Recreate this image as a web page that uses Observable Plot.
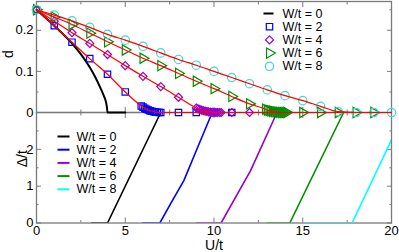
<!DOCTYPE html>
<html><head><meta charset="utf-8">
<script src="https://cdn.jsdelivr.net/npm/d3@7"></script>
<script src="https://cdn.jsdelivr.net/npm/@observablehq/plot@0.6"></script>
<style>
body{margin:0;background:#fff;}
#wrap{position:relative;width:399px;height:252px;overflow:hidden;background:#fff;}
.panel{position:absolute;left:0;}
</style></head><body><div id="wrap"><div class="panel" id="bot" style="top:112px"></div><div class="panel" id="top" style="top:0px"></div></div>
<script>
// ---------- data: top panel (order parameter d vs U/t) ----------
const W0_U = [0, 1, 2, 2.5, 3, 3.3, 3.6, 3.8, 3.9, 3.97, 4.0, 5.0];
const W0_d = [0.25, 0.211, 0.168, 0.142, 0.11, 0.087, 0.06, 0.04, 0.028, 0.012, 0, 0];

const W2_U = [0, 1, 2, 3, 4, 5, 5.9, 6.0, 6.1, 6.2, 6.3, 6.4, 6.5, 6.6, 6.7, 6.8, 6.9, 7.0, 8, 9, 10, 11];
const W2_d = [0.25, 0.211, 0.171, 0.131, 0.093, 0.050, 0.016, 0.013, 0.010, 0.008, 0.006, 0.004, 0.003, 0.002, 0.001, 0.0005, 0, 0, 0, 0, 0, 0];

const W4_U = [0, 1, 2, 3, 4, 5, 6, 7, 8, 9, 9.1, 9.2, 9.3, 9.4, 9.5, 9.6, 9.7, 9.8, 9.9, 10.0, 10.1, 10.2, 10.3, 10.4, 11, 12];
const W4_d = [0.25, 0.222, 0.194, 0.168, 0.141, 0.114, 0.088, 0.063, 0.037, 0.011, 0.009, 0.0075, 0.006, 0.0045, 0.0035, 0.0025, 0.0015, 0.001, 0.0005, 0, 0, 0, 0, 0, 0, 0];

const W6_U = [0, 1, 2, 3, 4, 5, 6, 7, 8, 9, 10, 11, 12, 12.9, 13.0, 13.1, 13.2, 13.3, 13.4, 13.5, 13.6, 13.7, 13.8, 13.9, 14.0, 14.1, 15, 16, 17, 18, 19];
const W6_d = [0.25, 0.232, 0.214, 0.193, 0.172, 0.152, 0.132, 0.114, 0.095, 0.076, 0.058, 0.039, 0.021, 0.008, 0.006, 0.005, 0.004, 0.003, 0.002, 0.0015, 0.001, 0.0005, 0, 0, 0, 0, 0, 0, 0, 0, 0];

const W8_U = [0, 1, 2, 3, 4, 5, 6, 7, 8, 9, 10, 11, 12, 13, 14, 15, 16, 17, 18, 19, 20];
const W8_d = [0.25, 0.237, 0.223, 0.207, 0.19, 0.176, 0.161, 0.145, 0.129, 0.115, 0.1, 0.085, 0.07, 0.055, 0.041, 0.029, 0.015, 0.002, 0, 0, 0];

// ---------- data: bottom panel (gap Delta/t vs U/t) ----------
const G0_U = [3.1, 4.0, 7.0];            const G0 = [0, 0, 3.0];
const G2_U = [6.0, 6.95, 7.55, 8.3, 9.24, 9.9]; const G2 = [0, 0, 0.52, 1.15, 2.24, 3.0];
const G4_U = [9.0, 10.4, 12.06, 13.55];  const G4 = [0, 0, 1.42, 3.0];
const G6_U = [13.0, 14.27, 17.3];        const G6 = [0, 0, 3.0];
const G8_U = [15.05, 17.78, 20];         const G8 = [0, 0, 2.26];

const legendLabels = ["W/t = 0", "W/t = 2", "W/t = 4", "W/t = 6", "W/t = 8"];
const xMajor = [0, 5, 10, 15, 20];
const xMinor = [2.5, 7.5, 12.5, 17.5];
const dMajor = [0, 0.1, 0.2];
const dMinor = [0.05, 0.15, 0.25];
const gMajor = [0, 1, 2];
const gMinor = [0.5, 1.5, 2.5];

// ---------- styling ----------
const GRAY = "#7a7a7a";
const BLUE = "#0000ff", VIOLET = "#9400d3", GREEN = "#008f00", TURQ = "#3fd9cf", CYAN = "#00ffff", RED = "#ff0000";
const FONT = "'Liberation Sans', Arial, Helvetica, sans-serif";
const rows = (U, v) => U.map((u, i) => ({U: u, v: v[i]}));
const withTail = (r) => r[r.length - 1].U < 20 ? [...r, {U: 20, v: 0}] : r;
const lineSym = {draw(ctx, size) { const r = Math.sqrt(size / Math.PI); ctx.moveTo(-r, 0); ctx.lineTo(r, 0); }};

const common = {
  width: 399, marginLeft: 36, marginRight: 8,
  x: {domain: [0, 20]},
  style: {fontFamily: FONT, fontSize: "13px", background: "transparent", overflow: "visible", color: "black"}
};
const none = () => "";
function frameTicks(yMaj, yMin, yLabels, xLabels) {
  const o = {stroke: GRAY, label: null};
  return [
    Plot.axisY(yMaj, {...o, anchor: "left", tickSize: -5, tickPadding: 8, fill: "black", tickFormat: yLabels}),
    Plot.axisY(yMin, {...o, anchor: "left", tickSize: -2.5, tickFormat: none}),
    Plot.axisY(yMaj, {...o, anchor: "right", tickSize: -5, tickFormat: none}),
    Plot.axisY(yMin, {...o, anchor: "right", tickSize: -2.5, tickFormat: none}),
    Plot.axisX(xMajor, {...o, anchor: "top", tickSize: -5, tickFormat: none}),
    Plot.axisX(xMinor, {...o, anchor: "top", tickSize: -2.5, tickFormat: none}),
    Plot.axisX(xMajor, {...o, anchor: "bottom", tickSize: -5, tickPadding: 8, fill: "black", tickFormat: xLabels}),
    Plot.axisX(xMinor, {...o, anchor: "bottom", tickSize: -2.5, tickFormat: none})
  ];
}

// ---------- top panel ----------
const symStyles = [
  {symbol: "square", r: 3.6, stroke: BLUE},
  {symbol: "diamond2", r: 3.6, stroke: VIOLET},
  {symbol: "triangle", r: 3.8, stroke: GREEN, rotate: 90},
  {symbol: "circle", r: 4.2, stroke: TURQ}
];
const sets = [rows(W2_U, W2_d), rows(W4_U, W4_d), rows(W6_U, W6_d), rows(W8_U, W8_d)];

const topMarks = [
  ...frameTicks(dMajor, dMinor, d => String(d), none),
  Plot.frame({stroke: GRAY, strokeWidth: 1.3}),
  Plot.line(rows(W0_U, W0_d), {x: "U", y: "v", stroke: "black", strokeWidth: 2, curve: "monotone-x"}),
  ...sets.map((s, i) => Plot.dot(s, {x: "U", y: "v", fill: "none", strokeWidth: 1.2, ...symStyles[i]})),
  ...sets.map(s => Plot.line(withTail(s), {x: "U", y: "v", stroke: RED, strokeWidth: 1.2, curve: "monotone-x"})),
  Plot.text(["d"], {text: d => d, frameAnchor: "left", dx: -28, dy: -3, rotate: -90, textAnchor: "middle", lineAnchor: "middle", fontSize: 14}),
  Plot.dot([0], {frameAnchor: "top-left", dx: 232, dy: 12, symbol: lineSym, r: 5, stroke: "black", strokeWidth: 2}),
  ...symStyles.map((st, i) => Plot.dot([0], {frameAnchor: "top-left", dx: 233, dy: 12 + 13.2 * (i + 1), fill: "none", strokeWidth: 1.2, ...st})),
  ...legendLabels.map((t, i) => Plot.text([t], {text: d => d, frameAnchor: "top-left", dx: 246, dy: 12 + 13.2 * i, textAnchor: "start", lineAnchor: "middle", fontSize: 12.5}))
];
const topPlot = Plot.plot({...common, height: 112, marginTop: 1, marginBottom: 0, y: {domain: [0, 0.27]}, marks: topMarks});
document.getElementById("top").appendChild(topPlot);

// ---------- bottom panel ----------
const gapSets = [rows(G0_U, G0), rows(G2_U, G2), rows(G4_U, G4), rows(G6_U, G6), rows(G8_U, G8)];
const gapColors = ["black", BLUE, VIOLET, GREEN, CYAN];
const botMarks = [
  ...frameTicks(gMajor, gMinor, d => String(d), d => String(d)),
  Plot.frame({stroke: GRAY, strokeWidth: 1.3}),
  ...gapSets.map((s, i) => Plot.line(s, {x: "U", y: "v", stroke: gapColors[i], strokeWidth: 1.6, clip: true})),
  Plot.text(["\u0394/t"], {text: d => d, frameAnchor: "left", dx: -14, dy: -9, rotate: -90, textAnchor: "middle", lineAnchor: "middle", fontSize: 14}),
  Plot.text(["U/t"], {text: d => d, frameAnchor: "bottom", dy: 22.5, textAnchor: "middle", lineAnchor: "middle", fontSize: 14}),
  ...gapColors.map((c, i) => Plot.dot([0], {frameAnchor: "top-left", dx: 27, dy: 24 + 13.2 * i, symbol: lineSym, r: 6, stroke: c, strokeWidth: 2})),
  ...legendLabels.map((t, i) => Plot.text([t], {text: d => d, frameAnchor: "top-left", dx: 40, dy: 24 + 13.2 * i, textAnchor: "start", lineAnchor: "middle", fontSize: 12.5}))
];
const botPlot = Plot.plot({...common, height: 140, marginTop: 0, marginBottom: 29.5, y: {domain: [0, 3]}, marks: botMarks});
document.getElementById("bot").appendChild(botPlot);
</script></body></html>
